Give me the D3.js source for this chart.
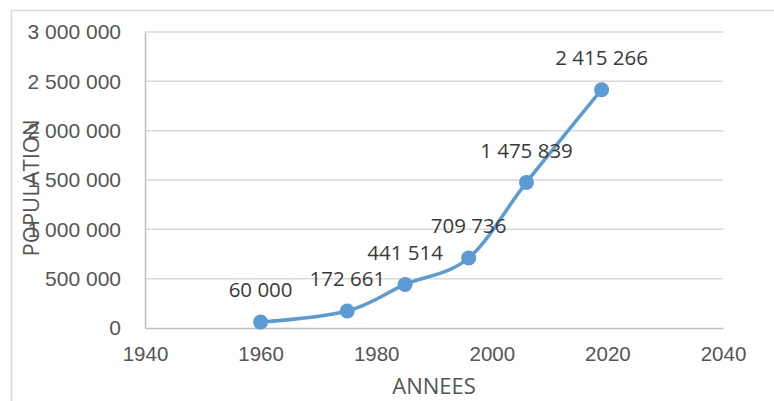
<!DOCTYPE html>
<html>
<head>
<meta charset="utf-8">
<script src="https://cdn.jsdelivr.net/npm/d3@7"></script>
<style>
  html, body { margin: 0; padding: 0; background: #fff; }
  svg { display: block; font-family: "Open Sans", "Noto Sans", sans-serif; }
</style>
</head>
<body>
<svg id="chart" width="774" height="401"></svg>
<script>
// Donnees
const annees = [1960, 1975, 1985, 1996, 2006, 2019];
const population = [60000, 172661, 441514, 709736, 1475839, 2415266];
const xTicks = [1940, 1960, 1980, 2000, 2020, 2040];
const yTicks = [0, 500000, 1000000, 1500000, 2000000, 2500000, 3000000];

const data = annees.map((a, i) => ({ annee: a, pop: population[i] }));

// format "3 000 000"
const fmt = v => d3.format(',')(v).replace(/,/g, ' ');

const svg = d3.select('#chart');
const margin = { top: 32, right: 51, bottom: 73, left: 145 };
const width = 774 - margin.left - margin.right;
const height = 401 - margin.top - margin.bottom;

// cadre exterieur
svg.append('rect')
    .attr('x', 11.5)
    .attr('y', 10.5)
    .attr('width', 800)
    .attr('height', 500)
    .attr('fill', 'none')
    .attr('stroke', '#d9d9d9')
    .attr('stroke-width', 1.5);

const g = svg.append('g')
    .attr('transform', `translate(${margin.left},${margin.top})`);

const x = d3.scaleLinear().domain([1940, 2040]).range([0, width]);
const y = d3.scaleLinear().domain([0, 3000000]).range([height, 0]);

// Grille horizontale
g.append('g')
    .selectAll('line')
    .data(yTicks.filter(d => d > 0))
    .enter()
    .append('line')
    .attr('x1', 0)
    .attr('x2', width)
    .attr('y1', d => y(d))
    .attr('y2', d => y(d))
    .attr('stroke', '#d9d9d9')
    .attr('stroke-width', 1.5);

// Axe Y
const yAxis = g.append('g')
    .call(d3.axisLeft(y).tickValues(yTicks).tickFormat(fmt).tickSize(0).tickPadding(24));
yAxis.select('.domain').attr('stroke', '#bfbfbf').attr('stroke-width', 1.5);
yAxis.selectAll('text')
    .style('font-size', '21px')
    .style('fill', '#555');

// Axe X
const xAxis = g.append('g')
    .attr('transform', `translate(0,${height})`)
    .call(d3.axisBottom(x).tickValues(xTicks).tickFormat(d3.format('d')).tickSize(0).tickPadding(18));
xAxis.select('.domain').attr('stroke', '#bfbfbf').attr('stroke-width', 1.5);
xAxis.selectAll('text')
    .style('font-size', '20.5px')
    .style('fill', '#555');

// Titres des axes
g.append('text')
    .attr('x', width / 2)
    .attr('y', height + 66)
    .attr('text-anchor', 'middle')
    .style('font-size', '22px')
    .style('fill', '#555')
    .text('ANNEES');

g.append('text')
    .attr('transform', `translate(${-106},${156}) rotate(-90)`)
    .attr('text-anchor', 'middle')
    .style('font-size', '22px')
    .style('fill', '#555')
    .text('POPULATION');

// Courbe lissee
const line = d3.line()
    .x(d => x(d.annee))
    .y(d => y(d.pop))
    .curve(d3.curveCardinal.tension(0));

g.append('path')
    .datum(data)
    .attr('d', line)
    .attr('fill', 'none')
    .attr('stroke', '#5b9bd5')
    .attr('stroke-width', 3.5)
    .attr('stroke-linecap', 'round');

// Points
g.selectAll('.pt')
    .data(data)
    .enter()
    .append('circle')
    .attr('class', 'pt')
    .attr('cx', d => x(d.annee))
    .attr('cy', d => y(d.pop))
    .attr('r', 7.5)
    .attr('fill', '#5b9bd5');

// Etiquettes
g.selectAll('.lbl')
    .data(data)
    .enter()
    .append('text')
    .attr('class', 'lbl')
    .attr('x', d => x(d.annee))
    .attr('y', d => y(d.pop) - 32)
    .attr('dy', '0.35em')
    .attr('text-anchor', 'middle')
    .style('font-size', '20.5px')
    .style('fill', '#3a3a3a')
    .text(d => fmt(d.pop));
</script>
</body>
</html>
